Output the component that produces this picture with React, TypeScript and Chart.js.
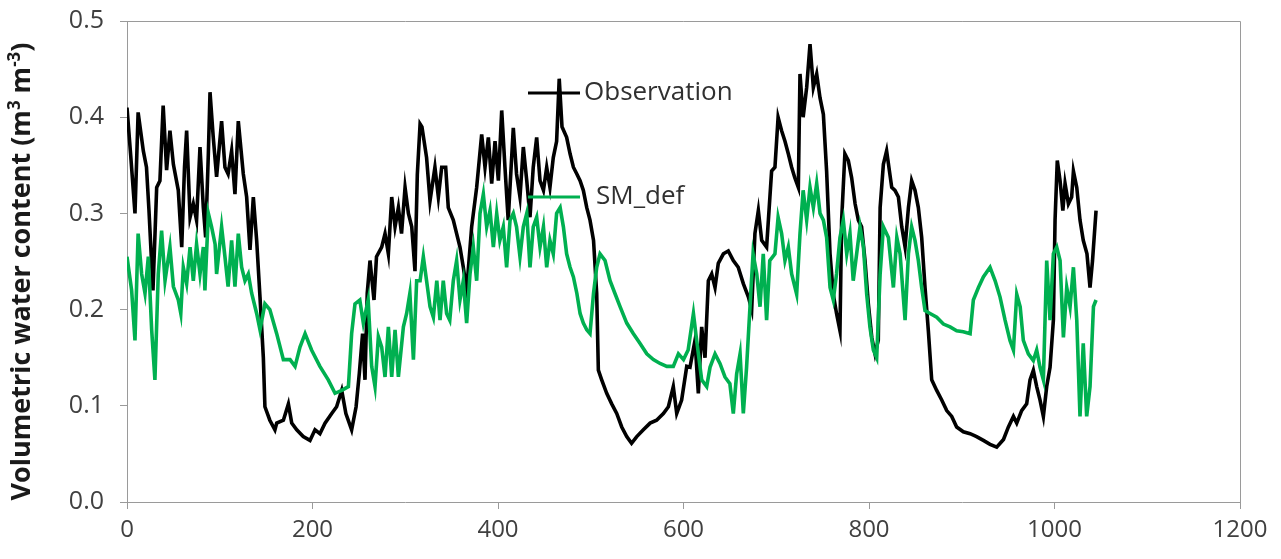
import React, { useEffect, useRef } from "react";
import { Chart, registerables } from "chart.js";

Chart.register(...registerables);

const obsDays = [0,4,8.6,12,17.6,21,23.7,28,32,35.5,39,42.7,46.3,50,55.3,59,62,64.3,68,71.5,75,78.7,82.3,84.8,87.7,89.5,93,96.6,102,105.6,109,112.8,116.4,120,125.4,129,132.6,136.2,139.8,143.4,147,148.7,154,159.5,161.4,168.6,174,177.6,183,190,197.3,202.7,208,213.5,220.7,226,231.5,236,242.2,247,250.5,254,256.6,259,262,266.3,269,274.6,278.2,281.8,285.4,289,292.6,296,299.8,303.4,307,310.5,313,316,318,323,326.7,332,335.7,339.3,343.6,346.4,351.8,355.4,359,362.6,366.2,371.6,377,382.4,386,389.6,393.2,396.8,400.4,404,407.5,411,416.5,420,423.7,427.3,431,434.5,438,441.7,445.3,449,452.5,456,459.6,463.2,466,469,474,477.7,481.3,485,488.5,492,495.7,499.2,503,506.4,508.2,511.8,517.2,522.6,528,533.4,538.8,544,549.6,556.7,564,571,578.3,583.7,589,592.7,598,603.5,607,612.4,616,619.6,623.2,626.8,630.4,634,637.5,643,648.3,653.7,659,664.5,670,673.5,677,680.7,684.3,689.6,695,698.6,702,705.8,709.4,713,716.6,720,723.8,725.6,729,732.8,736.4,740,743.6,747.2,750.8,754.3,758,761.5,765,768.7,770.5,774,777.7,781.3,785,788.5,792,795.7,799.3,803,806.5,810,812,815.5,819,824.5,828,831.7,835.3,838.9,842.5,846,849.6,853.2,856.8,860.4,864,867.6,873,878.4,883.8,889.2,894.5,901.7,909,916,923.3,930.5,937.7,945,950.3,955.7,959.3,964.6,970,973.6,977.2,980.8,984.4,988,991.6,995.2,998.8,1000.6,1003,1006,1009,1011.4,1015,1018.5,1020.4,1024,1027.5,1031,1035,1038.3,1041,1044.8];
const obsValues = [0.41,0.36,0.30,0.405,0.365,0.348,0.303,0.22,0.327,0.334,0.412,0.345,0.386,0.351,0.324,0.265,0.348,0.386,0.296,0.31,0.293,0.369,0.306,0.275,0.362,0.426,0.379,0.338,0.396,0.348,0.341,0.365,0.32,0.396,0.341,0.317,0.262,0.317,0.272,0.213,0.15,0.099,0.085,0.075,0.082,0.085,0.102,0.082,0.075,0.068,0.064,0.075,0.071,0.082,0.092,0.099,0.116,0.092,0.075,0.099,0.134,0.175,0.127,0.217,0.251,0.21,0.255,0.265,0.279,0.258,0.317,0.286,0.306,0.279,0.327,0.30,0.286,0.24,0.34,0.393,0.39,0.358,0.313,0.348,0.317,0.348,0.348,0.306,0.293,0.279,0.265,0.244,0.22,0.286,0.327,0.382,0.348,0.379,0.331,0.375,0.334,0.407,0.348,0.293,0.389,0.341,0.317,0.369,0.334,0.296,0.348,0.379,0.334,0.324,0.348,0.327,0.358,0.375,0.44,0.39,0.379,0.362,0.348,0.341,0.334,0.324,0.306,0.293,0.272,0.217,0.137,0.127,0.113,0.102,0.092,0.078,0.068,0.061,0.068,0.075,0.082,0.085,0.092,0.099,0.12,0.092,0.106,0.141,0.14,0.168,0.113,0.182,0.15,0.23,0.237,0.223,0.248,0.258,0.261,0.251,0.244,0.227,0.213,0.2,0.279,0.303,0.272,0.265,0.344,0.348,0.40,0.386,0.375,0.362,0.348,0.337,0.327,0.445,0.40,0.431,0.476,0.431,0.445,0.42,0.403,0.344,0.258,0.216,0.196,0.178,0.293,0.362,0.355,0.337,0.31,0.293,0.286,0.251,0.206,0.171,0.154,0.168,0.306,0.351,0.365,0.327,0.324,0.317,0.286,0.265,0.306,0.334,0.324,0.306,0.275,0.223,0.178,0.127,0.116,0.106,0.095,0.089,0.078,0.073,0.071,0.068,0.064,0.06,0.057,0.065,0.078,0.089,0.082,0.095,0.102,0.127,0.137,0.12,0.106,0.089,0.12,0.14,0.189,0.293,0.355,0.334,0.303,0.331,0.31,0.317,0.344,0.327,0.293,0.272,0.258,0.223,0.251,0.303];

const simDays = [0,5,8.6,12,15.8,19.4,23,26.6,30.1,33.7,37.3,41,46.3,50,55.3,58,60.7,64.3,68,71.5,75,78.7,82.3,84,87.7,91.2,95,96.6,102,105.6,109,112.8,116.4,120,123.6,127.2,130.8,134.4,139.8,143.4,148.7,154,161.4,168.6,175.8,181.2,186.5,192,199,208,217,224.3,231.5,238.7,242.2,245.8,251,254.8,260,263.8,267.4,271,274.6,278.2,281.8,285.4,289,292.6,298,301.5,305,308.8,312.3,316,319.5,323,326.7,330.3,334,337.5,341,344.6,348,351.8,355.4,359,362.6,366.2,369.8,373.4,377,380.6,384.2,387.8,391.4,395,398.6,402,405.7,409.3,413,416.5,420,423.7,427.3,431,434.5,438,441.7,445.3,449,452.5,456,459.6,463.2,467,470.5,474,477.7,481.3,485,488.5,492,495.7,499.2,503,506.4,510,515.4,520.8,526,531.6,538.8,546,553,560.4,567.5,574.7,582,589,594.5,600,605,610.7,614.2,619.6,625,628.6,634,639.3,644.7,650,653.7,657.3,661,664.5,668,671.7,675,679,682.5,686,689.6,693,698.6,702,705.8,709.4,713,716.6,722,725.6,729,732.8,736.4,740,743.6,747.2,750.8,754.3,758,761.5,765,768.7,772.3,776,779.5,783,786.7,790.3,794,797.5,801,804.7,808.3,812,815.5,820.9,826.3,830,833.5,838.9,842.5,846,849.6,853.2,856.8,860.4,865.8,873,880.2,887.4,894.5,901.7,909,912.5,918,923.3,930.5,936,941.3,946.7,952,955.7,959.3,963,966.4,971.8,977.2,980.8,984.4,988,991.6,995.2,998.8,1002.4,1006,1009.6,1013.2,1016.8,1020.4,1024,1027.5,1031,1034.7,1038.3,1042,1044.8];
const simValues = [0.255,0.22,0.168,0.279,0.237,0.217,0.255,0.179,0.127,0.237,0.282,0.23,0.265,0.224,0.21,0.196,0.244,0.227,0.265,0.23,0.268,0.237,0.265,0.22,0.30,0.286,0.268,0.237,0.286,0.255,0.224,0.272,0.224,0.279,0.244,0.23,0.237,0.217,0.196,0.179,0.206,0.2,0.175,0.148,0.148,0.141,0.161,0.175,0.158,0.141,0.127,0.113,0.116,0.12,0.175,0.206,0.21,0.186,0.21,0.141,0.12,0.172,0.161,0.13,0.182,0.13,0.179,0.13,0.182,0.196,0.217,0.148,0.23,0.23,0.255,0.23,0.203,0.192,0.23,0.189,0.23,0.196,0.189,0.23,0.251,0.21,0.23,0.186,0.237,0.265,0.23,0.30,0.32,0.286,0.303,0.265,0.30,0.272,0.286,0.244,0.293,0.30,0.286,0.255,0.286,0.30,0.244,0.286,0.296,0.265,0.286,0.244,0.272,0.258,0.30,0.306,0.286,0.258,0.244,0.234,0.217,0.196,0.186,0.179,0.175,0.217,0.244,0.258,0.251,0.23,0.217,0.203,0.186,0.175,0.165,0.154,0.148,0.144,0.141,0.141,0.154,0.148,0.158,0.196,0.168,0.127,0.12,0.14,0.154,0.144,0.13,0.123,0.092,0.133,0.154,0.092,0.14,0.203,0.258,0.237,0.203,0.258,0.189,0.251,0.258,0.296,0.279,0.251,0.265,0.237,0.216,0.279,0.324,0.293,0.327,0.306,0.331,0.30,0.293,0.275,0.223,0.21,0.237,0.275,0.293,0.258,0.279,0.23,0.258,0.286,0.265,0.216,0.182,0.158,0.15,0.237,0.286,0.275,0.223,0.275,0.258,0.189,0.258,0.286,0.272,0.251,0.223,0.199,0.196,0.192,0.185,0.182,0.178,0.177,0.175,0.21,0.223,0.234,0.244,0.23,0.213,0.189,0.168,0.158,0.216,0.203,0.168,0.154,0.147,0.158,0.14,0.127,0.251,0.189,0.258,0.265,0.251,0.171,0.223,0.203,0.244,0.189,0.089,0.165,0.089,0.12,0.203,0.21];

const xTicks = [0, 200, 400, 600, 800, 1000, 1200];
const yTicks = [0, 0.1, 0.2, 0.3, 0.4, 0.5];
const seriesNames = ["Observation", "SM_def"];
const seriesColors = ["#000000", "#00B050"];

const AXIS_COLOR = "#9a9a9a";
const TEXT_COLOR = "#404040";

const decorPlugin = {
  id: "decor",
  afterDraw(chart: any) {
    const { ctx, chartArea } = chart;
    ctx.save();
    ctx.strokeStyle = AXIS_COLOR;
    ctx.lineWidth = 1;
    ctx.beginPath();
    ctx.moveTo(chartArea.left, chartArea.top + 0.5);
    ctx.lineTo(chartArea.right + 0.5, chartArea.top + 0.5);
    ctx.lineTo(chartArea.right + 0.5, chartArea.bottom);
    ctx.stroke();

    const entries = [
      { name: seriesNames[0], color: seriesColors[0], y: chartArea.top + 72, tx: chartArea.left + 457 },
      { name: seriesNames[1], color: seriesColors[1], y: chartArea.top + 176, tx: chartArea.left + 469 },
    ];
    ctx.font = "26px 'Open Sans'";
    ctx.textBaseline = "middle";
    ctx.textAlign = "left";
    entries.forEach((e) => {
      ctx.strokeStyle = e.color;
      ctx.lineWidth = 3;
      ctx.beginPath();
      ctx.moveTo(chartArea.left + 401, e.y);
      ctx.lineTo(chartArea.left + 453, e.y);
      ctx.stroke();
      ctx.fillStyle = "#303030";
      ctx.fillText(e.name, e.tx, e.y);
    });

    const parts = [
      { t: "Volumetric water content (m", sup: false },
      { t: "3", sup: true },
      { t: " m", sup: false },
      { t: "-3", sup: true },
      { t: ")", sup: false },
    ];
    const mainFont = "bold 27px 'Open Sans'";
    const supFont = "bold 17px 'Open Sans'";
    let total = 0;
    parts.forEach((p) => {
      ctx.font = p.sup ? supFont : mainFont;
      total += ctx.measureText(p.t).width;
    });
    const cx = 22;
    const cy = (chartArea.top + chartArea.bottom) / 2 + 10;
    ctx.translate(cx, cy);
    ctx.rotate(-Math.PI / 2);
    ctx.fillStyle = "#1a1a1a";
    ctx.textBaseline = "middle";
    let x = -total / 2;
    parts.forEach((p) => {
      ctx.font = p.sup ? supFont : mainFont;
      ctx.fillText(p.t, x, p.sup ? -7 : 0);
      x += ctx.measureText(p.t).width;
    });
    ctx.restore();
  },
};

export default function App() {
  const canvasRef = useRef<HTMLCanvasElement | null>(null);

  useEffect(() => {
    if (!canvasRef.current) return;
    const obsData = obsDays.map((d, i) => ({ x: d, y: obsValues[i] }));
    const simData = simDays.map((d, i) => ({ x: d, y: simValues[i] }));
    const chart = new Chart(canvasRef.current, {
      type: "line",
      data: {
        datasets: [
          {
            label: seriesNames[0],
            data: obsData,
            borderColor: seriesColors[0],
            backgroundColor: seriesColors[0],
            borderWidth: 3.6,
            pointRadius: 0,
            tension: 0,
            order: 1,
          },
          {
            label: seriesNames[1],
            data: simData,
            borderColor: seriesColors[1],
            backgroundColor: seriesColors[1],
            borderWidth: 3.6,
            pointRadius: 0,
            tension: 0,
            order: 0,
          },
        ],
      },
      plugins: [decorPlugin],
      options: {
        animation: false,
        responsive: true,
        maintainAspectRatio: false,
        layout: { padding: { left: 0, right: 41, top: 12, bottom: 0 } },
        plugins: { legend: { display: false }, tooltip: { enabled: false }, title: { display: false } },
        scales: {
          x: {
            type: "linear",
            min: xTicks[0],
            max: xTicks[xTicks.length - 1],
            afterBuildTicks: (s: any) => { s.ticks = xTicks.map((v) => ({ value: v })); },
            afterFit: (s: any) => { s.height = 57; },
            ticks: {
              color: TEXT_COLOR,
              font: { family: "'Open Sans'", size: 24 },
              padding: 7,
              maxRotation: 0,
              autoSkip: false,
              callback: (v: any) => String(v),
            },
            grid: { display: true, drawOnChartArea: false, drawTicks: true, tickLength: 7, color: AXIS_COLOR },
            border: { display: true, color: AXIS_COLOR, width: 1 },
          },
          y: {
            min: yTicks[0],
            max: yTicks[yTicks.length - 1],
            afterBuildTicks: (s: any) => { s.ticks = yTicks.map((v) => ({ value: v })); },
            afterFit: (s: any) => { s.width = 127; },
            ticks: {
              color: TEXT_COLOR,
              font: { family: "'Open Sans'", size: 25 },
              padding: 16,
              callback: (v: any) => Number(v).toFixed(1),
            },
            grid: { display: true, drawOnChartArea: false, drawTicks: true, tickLength: 7, color: AXIS_COLOR },
            border: { display: true, color: AXIS_COLOR, width: 1 },
          },
        },
      },
    });
    return () => chart.destroy();
  }, []);

  return (
    <div style={{ position: "absolute", left: 0, top: -10, width: 1281, height: 569, background: "#ffffff" }}>
      <canvas ref={canvasRef} />
    </div>
  );
}
